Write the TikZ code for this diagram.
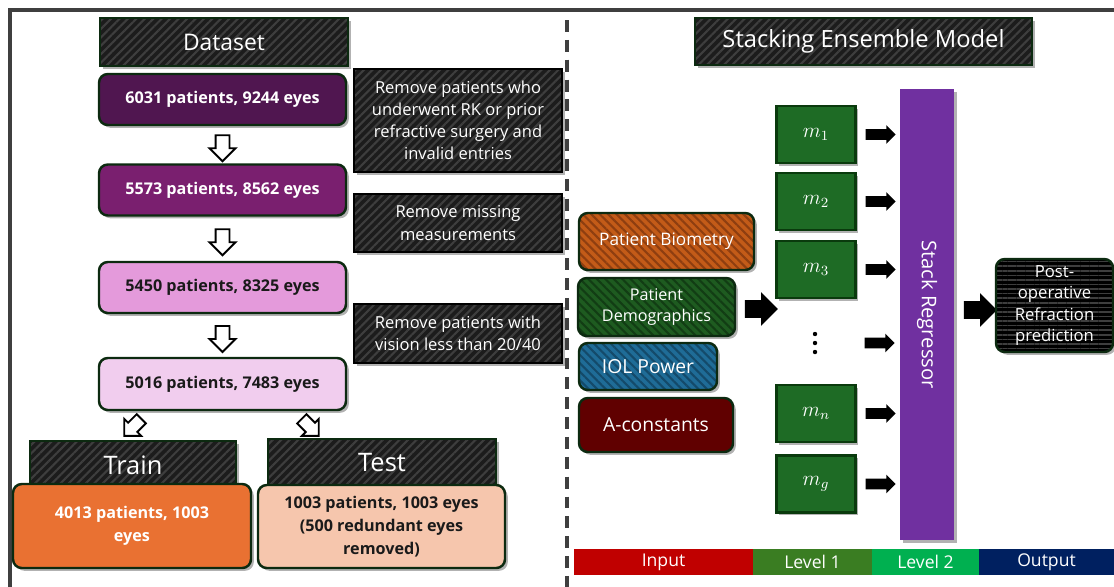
\documentclass[tikz,border=0pt]{standalone}
\usepackage{fontspec}
\setmainfont{Open Sans}
\usetikzlibrary{shapes.arrows,shadows,patterns.meta,calc}

\definecolor{framegray}{HTML}{3F3F3F}
\definecolor{edgegreen}{HTML}{0C2A10}
\definecolor{hatchbg}{HTML}{1C1C1C}
\definecolor{hatchln}{HTML}{3E3E3E}
\definecolor{purpleA}{HTML}{501650}
\definecolor{purpleB}{HTML}{7A1F6F}
\definecolor{pinkA}{HTML}{E49ADB}
\definecolor{pinkB}{HTML}{F1CDEE}
\definecolor{trainor}{HTML}{E97132}
\definecolor{testpeach}{HTML}{F6C6AD}
\definecolor{bioor}{HTML}{C35B18}
\definecolor{bioln}{HTML}{8E3E10}
\definecolor{demogr}{HTML}{1E5B20}
\definecolor{demoln}{HTML}{123D14}
\definecolor{iolbl}{HTML}{1F6C97}
\definecolor{iolln}{HTML}{144A6A}
\definecolor{aconst}{HTML}{600000}
\definecolor{modelgr}{HTML}{1E6B25}
\definecolor{modeledge}{HTML}{0A3A0D}
\definecolor{stackpu}{HTML}{7030A0}
\definecolor{legin}{HTML}{C00000}
\definecolor{legone}{HTML}{3A7D22}
\definecolor{legtwo}{HTML}{00B050}
\definecolor{legout}{HTML}{002060}
\definecolor{darktext}{HTML}{1A1A1A}

\newcommand\px{0.02cm}

\tikzset{
	softshadow/.style={drop shadow={shadow xshift=1.6pt, shadow yshift=-1.6pt, opacity=0.3, fill=black}},
	headbox/.style={softshadow, draw=edgegreen, line width=1.1pt, preaction={fill=hatchbg},
		pattern={Lines[angle=45, distance=3.4pt, line width=1.2pt]}, pattern color=hatchln,
		text=white, inner sep=0pt, align=center},
	notebox/.style={headbox, draw=black, line width=0.8pt, font=\fontsize{9.4}{12.6}\selectfont},
	countbox/.style={softshadow, draw=edgegreen, line width=1.4pt, rounded corners=5pt, inner sep=0pt,
		align=center, font=\bfseries\fontsize{9.2}{13}\selectfont},
	inbox/.style={softshadow, draw=edgegreen, line width=1.4pt, rounded corners=5pt, inner sep=0pt,
		align=center, text=white},
	modelbox/.style={softshadow, draw=modeledge, fill=modelgr, line width=1.4pt, inner sep=0pt,
		minimum width=79*\px, minimum height=57*\px, text=white, font=\fontsize{12}{14}\selectfont},
	hollowarr/.style={single arrow, draw=black, fill=white, line width=1.1pt, inner xsep=0pt, inner ysep=6*\px,
		minimum height=26*\px, single arrow head extend=6*\px},
	smallarr/.style={single arrow, fill=black, inner xsep=0pt, inner ysep=5*\px, minimum height=30*\px,
		single arrow head extend=4*\px},
	bigarr/.style={single arrow, fill=black, inner xsep=0pt, inner ysep=8.5*\px, minimum height=33*\px,
		single arrow head extend=8*\px},
	legendbar/.style={minimum height=26*\px, inner sep=0pt, text=white, font=\fontsize{10}{12}\selectfont},
}

\begin{document}
\begin{tikzpicture}[x=0.02cm, y=-0.02cm]
	\useasboundingbox (0,0) rectangle (1114,586);
	\clip (0,0) rectangle (1114,586);
	% frame and divider
	\draw[framegray, line width=2.3pt] (10,600) -- (10,10) -- (1130,10);
	\draw[framegray, line width=2pt, dash pattern=on 6.8pt off 4.5pt] (567,20) -- (567,600);

	% dataset side
	\node[headbox, minimum width=248*\px, minimum height=48*\px, font=\fontsize{13}{15}\selectfont] (dataset) at (224,42) {Dataset};
	\node[countbox, fill=purpleA, text=white, minimum width=247*\px, minimum height=51*\px] (b1) at (222.5,99.5) {6031 patients, 9244 eyes};
	\node[countbox, fill=purpleB, text=white, minimum width=247*\px, minimum height=51*\px] (b2) at (222.5,190) {5573 patients, 8562 eyes};
	\node[countbox, fill=pinkA, text=darktext, minimum width=247*\px, minimum height=51*\px] (b3) at (222.5,287.5) {5450 patients, 8325 eyes};
	\node[countbox, fill=pinkB, text=darktext, minimum width=247*\px, minimum height=52*\px] (b4) at (222.5,384) {5016 patients, 7483 eyes};
	\node[hollowarr, rotate=-90] (a1) at ($(b1.south)!0.5!(b2.north)$) {};
	\node[hollowarr, rotate=-90] (a2) at ($(b2.south)!0.5!(b3.north)$) {};
	\node[hollowarr, rotate=-90] (a3) at ($(b3.south)!0.5!(b4.north)$) {};

	% removal notes
	\node[notebox, minimum width=208*\px, minimum height=103*\px] (n1) at (458,120.5) {Remove patients who\\underwent RK or prior\\refractive surgery and\\invalid entries};
	\node[notebox, minimum width=208*\px, minimum height=58*\px] (n2) at (458,223) {Remove missing\\measurements};
	\node[notebox, minimum width=208*\px, minimum height=59*\px] (n3) at (458,333.5) {Remove patients with\\vision less than 20/40};

	% split
	\node[hollowarr, rotate=-135, minimum height=24*\px, inner ysep=5.5*\px, single arrow head extend=5.5*\px] (al) at (135,425) {};
	\node[hollowarr, rotate=-45, minimum height=24*\px, inner ysep=5.5*\px, single arrow head extend=5.5*\px] (ar) at (308,425) {};
	\node[headbox, minimum width=206*\px, minimum height=48*\px, font=\fontsize{14.5}{17}\selectfont] (trainh) at (133,465) {Train};
	\node[headbox, minimum width=228*\px, minimum height=48*\px, font=\fontsize{14.5}{17}\selectfont] (testh) at (382,463) {Test};
	\node[countbox, fill=trainor, text=white, minimum width=238*\px, minimum height=84*\px] (train) at (132,526) {4013 patients, 1003\\eyes};
	\node[countbox, fill=testpeach, text=darktext, minimum width=247*\px, minimum height=83*\px] (test) at (381.5,526.5) {1003 patients, 1003 eyes\\(500 redundant eyes\\removed)};

	% model side
	\node[headbox, minimum width=337*\px, minimum height=47*\px, font=\fontsize{13.5}{15}\selectfont] (stacking) at (863.5,41.5) {Stacking Ensemble Model};
	\node[inbox, preaction={fill=bioor}, pattern={Lines[angle=-45, distance=3.4pt, line width=1.2pt]}, pattern color=bioln,
		minimum width=175*\px, minimum height=57*\px, font=\fontsize{9.8}{12}\selectfont] (bio) at (666.5,241.5) {Patient Biometry};
	\node[inbox, preaction={fill=demogr}, pattern={Lines[angle=-45, distance=3.4pt, line width=1.2pt]}, pattern color=demoln,
		minimum width=157*\px, minimum height=58*\px, font=\fontsize{9.2}{12.5}\selectfont] (demo) at (656.5,307) {Patient\\Demographics};
	\node[inbox, preaction={fill=iolbl}, pattern={Lines[angle=-45, distance=3.4pt, line width=1.2pt]}, pattern color=iolln,
		minimum width=138*\px, minimum height=47*\px, font=\fontsize{11}{12}\selectfont] (iol) at (648,366.5) {IOL Power};
	\node[inbox, fill=aconst, minimum width=154*\px, minimum height=54*\px, font=\fontsize{11}{12}\selectfont] (acon) at (656,425) {A-constants};
	\node[bigarr] (ain) at (757,309) {};

	\node[modelbox] (m1) at (816,134.5) {$m_1$};
	\node[modelbox] (m2) at (816,201.5) {$m_2$};
	\node[modelbox] (m3) at (816,269.5) {$m_3$};
	\coordinate (dots) at (815,343);
	\foreach \dy in {-9,0,9}
		\fill ($(dots)+(0,\dy)$) circle (2.2*\px);
	\node[modelbox] (mn) at (816,413.5) {$m_n$};
	\node[modelbox] (mg) at (816,484) {$m_g$};
	\foreach \m in {m1,m2,m3,dots,mn,mg}
		\node[smallarr] (arr-\m) at ($(\m)+(62,0)$) {};

	\node[softshadow, fill=stackpu, rotate=-90, minimum width=451*\px, minimum height=54*\px, inner sep=0pt,
		text=white, font=\fontsize{11.5}{13}\selectfont] (stack) at (927,314.5) {Stack Regressor};
	\node[bigarr] (aout) at (976,310) {};
	\node[inbox, draw=edgegreen, preaction={fill=black}, pattern={Lines[angle=0, distance=2.6pt, line width=0.9pt]}, pattern color=hatchln,
		minimum width=117*\px, minimum height=93*\px, font=\fontsize{9.5}{12.2}\selectfont] (output) at (1054.5,305.5) {Post-\\operative\\Refraction\\prediction};

	% legend
	\node[legendbar, fill=legin, minimum width=179*\px] (lin) at (663.5,562) {Input};
	\node[legendbar, fill=legone, minimum width=119*\px] (lone) at (812.5,562) {Level 1};
	\node[legendbar, fill=legtwo, minimum width=107*\px] (ltwo) at (925.5,562) {Level 2};
	\node[legendbar, fill=legout, minimum width=135*\px] (lout) at (1046.5,562) {Output};
\end{tikzpicture}
\end{document}
